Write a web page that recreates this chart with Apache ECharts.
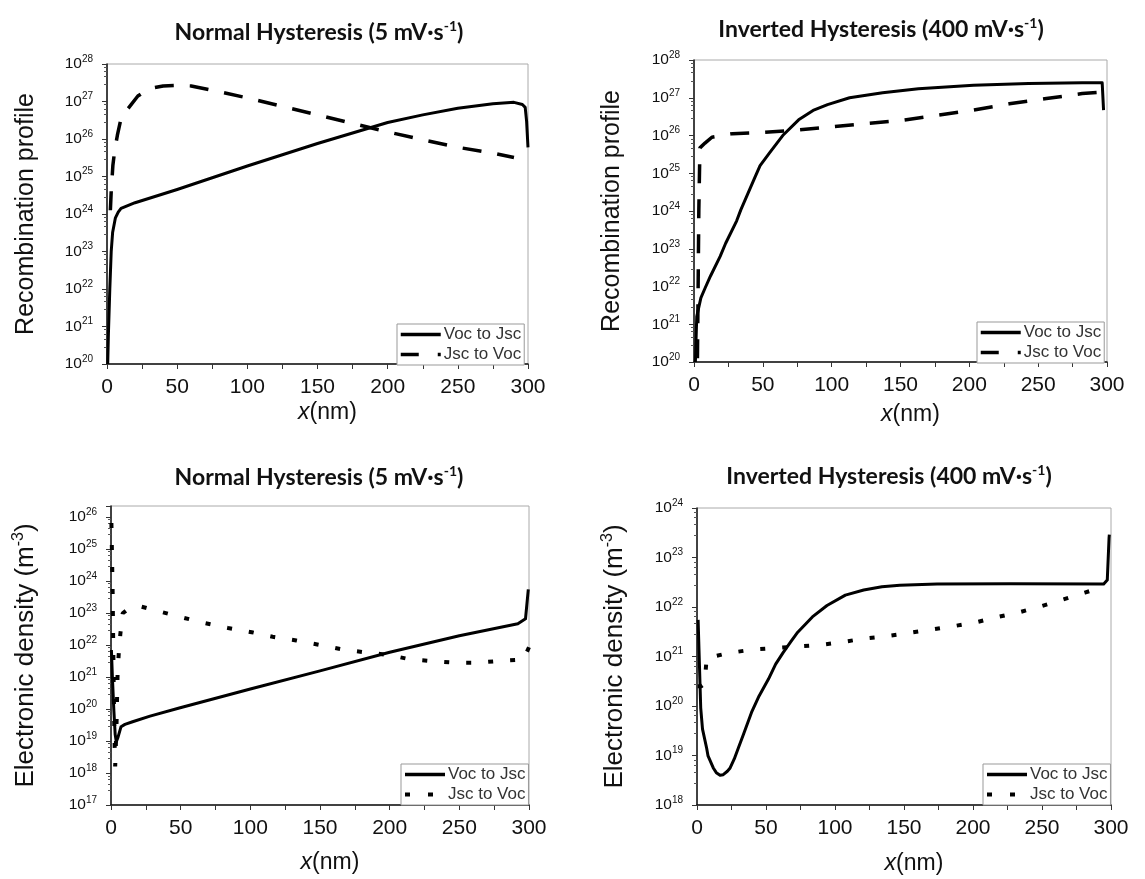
<!DOCTYPE html>
<html>
<head>
<meta charset="utf-8">
<script src="https://cdn.jsdelivr.net/npm/echarts/dist/echarts.min.js"></script>
<style>html,body{margin:0;padding:0;background:#fff}#c{width:1145px;height:879px}</style>
</head>
<body>
<div id="c"></div>
<script>
// ---------- DATA ----------
const seriesNames = ['Voc to Jsc', 'Jsc to Voc'];
const xTickLabels = ['0', '50', '100', '150', '200', '250', '300'];

// Panel A: Recombination profile, Normal Hysteresis (5 mV/s)
const recNormVocJscX = [0.5, 1, 2, 3, 4, 6, 8, 10, 20, 50, 100, 150, 200, 225, 250, 275, 290, 296, 298, 299, 300];
const recNormVocJscY = [1e20, 6.3e20, 1e22, 1e23, 3.2e23, 7.9e23, 1.12e24, 1.41e24, 2e24, 4.5e24, 1.9e25, 7.6e25, 2.75e26, 4.4e26, 6.6e26, 8.7e26, 9.5e26, 8.3e26, 7e26, 3e26, 6e25];
const recNormJscVocX = [2.4, 3, 4.2, 5.5, 7.4, 10, 15, 22, 30, 40, 50, 60, 75, 100, 125, 150, 175, 200, 225, 250, 275, 290];
const recNormJscVocY = [1.26e24, 4e24, 2e25, 5e25, 1.26e26, 3.5e26, 6.5e26, 1.4e27, 2.2e27, 2.6e27, 2.7e27, 2.6e27, 2e27, 1.25e27, 7.4e26, 4.4e26, 2.6e26, 1.55e26, 9.5e25, 6e25, 4.2e25, 3.2e25];

// Panel B: Recombination profile, Inverted Hysteresis (400 mV/s)
const recInvVocJscX = [1, 2, 5, 8, 12, 19, 23, 31, 34, 44, 48, 55, 65, 76, 86.5, 97, 113, 137, 163, 203, 243, 282, 296.5, 297.5];
const recInvVocJscY = [1e20, 1.6e21, 5e21, 9e21, 1.9e22, 6.3e22, 1.4e23, 5.5e23, 1.07e24, 7.4e24, 1.6e25, 3.5e25, 1.05e26, 2.6e26, 4.6e26, 6.6e26, 1e27, 1.35e27, 1.74e27, 2.14e27, 2.4e27, 2.5e27, 2.5e27, 4.7e26];
const recInvJscVocX = [2.5, 3, 3.5, 4.3, 8, 13, 28, 44, 70, 97, 123, 150, 176, 203, 229, 256, 282, 297];
const recInvJscVocY = [1.26e20, 1e22, 1e24, 4.7e25, 6.3e25, 9e25, 1.12e26, 1.17e26, 1.35e26, 1.66e26, 2.04e26, 2.5e26, 3.4e26, 4.7e26, 6.9e26, 9.5e26, 1.29e27, 1.41e27];

// Panel C: Electronic density, Normal Hysteresis (5 mV/s)
const denNormVocJscX = [0.3, 1, 2, 3, 3.8, 5, 7.2, 10, 15.5, 28, 49, 100, 150, 200, 250, 292, 297.5, 299.5];
const denNormVocJscY = [7e21, 1e21, 1e20, 1.6e19, 9.5e18, 1.3e19, 2.8e19, 3.3e19, 4e19, 6e19, 1.07e20, 4.2e20, 1.55e21, 5.9e21, 1.95e22, 4.6e22, 6.6e22, 5.5e23];
const denNormJscVocX = [0.3, 0.8, 1.2, 1.6, 2, 2.5, 3, 4, 4.7, 5.5, 6.7, 8.4, 12, 20, 37, 52, 67.5, 84, 101, 116, 133, 149, 165, 182, 199, 214, 231, 247, 263, 280, 296, 300];
const denNormJscVocY = [6.5e25, 4e24, 4e23, 1e22, 2.8e20, 1.26e19, 1.6e18, 4e19, 1.15e21, 4.9e21, 2.2e22, 9.8e22, 1.3e23, 1.66e23, 1.05e23, 7.1e22, 4.8e22, 3.4e22, 2.5e22, 1.8e22, 1.38e22, 1.02e22, 7.4e21, 5.9e21, 4.9e21, 3.6e21, 3.1e21, 2.8e21, 2.8e21, 3.2e21, 3.5e21, 8.5e21];

// Panel D: Electronic density, Inverted Hysteresis (400 mV/s)
const denInvVocJscX = [0.8, 2.7, 4, 7, 8, 11.8, 14, 16.7, 19, 22, 24, 27, 30.5, 33.5, 39.5, 45, 51.8, 57, 62.4, 68, 73, 83.6, 94.2, 107.5, 120.8, 134, 147, 174, 227, 294.7, 297.3, 298.6, 298.8];
const denInvVocJscY = [5.5e21, 9.1e19, 3.4e19, 1.4e19, 9.8e18, 5.6e18, 4.5e18, 4e18, 4.1e18, 4.8e18, 5.6e18, 8.5e18, 1.55e19, 2.6e19, 7.4e19, 1.6e20, 3.5e20, 7e20, 1.2e21, 2e21, 3.1e21, 6.3e21, 1.07e22, 1.74e22, 2.2e22, 2.57e22, 2.75e22, 2.9e22, 2.95e22, 2.9e22, 3.5e22, 2.5e23, 2.9e23];
const denInvJscVocX = [0.5, 3, 5.5, 7, 22.6, 40, 55.7, 71.7, 88.4, 105, 121, 137, 154, 170, 186, 202, 218, 234, 250, 264, 281, 294.7];
const denInvJscVocY = [2.5e20, 2.5e20, 2.8e20, 9.3e20, 1.17e21, 1.38e21, 1.48e21, 1.58e21, 1.7e21, 1.95e21, 2.3e21, 2.57e21, 3e21, 3.5e21, 4.1e21, 4.9e21, 6.3e21, 7.9e21, 1.05e22, 1.38e22, 1.95e22, 2.57e22];

const titleNormal = 'Normal Hysteresis (5 mV·s';
const titleInverted = 'Inverted Hysteresis (400 mV·s';
const yNameRec = 'Recombination profile';
const yNameDen = 'Electronic density (m';
const yRanges = [[1e20, 1e28], [1e20, 1e28], [1e17, 2.2e26], [1e18, 1e24]];

// ---------- LAYOUT ----------
const FONT = '"Liberation Sans", Arial, sans-serif';
const TFONT = 'Lato, "Open Sans", sans-serif';
const panels = [
  {grid: {left: 107, top: 64, width: 421, height: 300}, title: titleNormal, tx: 314, ty: 14, yName: yNameRec, sup: false, yGap: 66, xGap: 37,
   legend: {left: 397, top: 324}, dash: 'dash',
   s: [[recNormVocJscX, recNormVocJscY], [recNormJscVocX, recNormJscVocY]]},
  {grid: {left: 694, top: 60, width: 413, height: 302}, title: titleInverted, tx: 876, ty: 11, yName: yNameRec, sup: false, yGap: 67, xGap: 41,
   legend: {left: 977, top: 322}, dash: 'dash',
   s: [[recInvVocJscX, recInvVocJscY], [recInvJscVocX, recInvJscVocY]]},
  {grid: {left: 111, top: 506, width: 418, height: 299}, title: titleNormal, tx: 314, ty: 459, yName: yNameDen, sup: true, yGap: 70, xGap: 46,
   legend: {left: 401, top: 764}, dash: 'dot',
   s: [[denNormVocJscX, denNormVocJscY], [denNormJscVocX, denNormJscVocY]]},
  {grid: {left: 697, top: 508, width: 414, height: 297}, title: titleInverted, tx: 884, ty: 458, yName: yNameDen, sup: true, yGap: 67, xGap: 47,
   legend: {left: 983, top: 764}, dash: 'dot',
   s: [[denInvVocJscX, denInvVocJscY], [denInvJscVocX, denInvJscVocY]]}
];

const DASH = [19, 16];
const DOT = [5, 17];

function zip(xs, ys) { return xs.map((x, i) => [x, ys[i]]); }

const option = {
  backgroundColor: '#fff',
  animation: false,
  title: [], grid: [], xAxis: [], yAxis: [], series: [], legend: []
};

panels.forEach((p, i) => {
  option.title.push({
    text: '{t|' + p.title + '}{s|-1}{t|)}',
    left: p.tx, top: p.ty, textAlign: 'center',
    textStyle: {
      rich: {
        t: {fontFamily: TFONT, fontWeight: 'bold', fontSize: 23, color: '#111', lineHeight: 28},
        s: {fontFamily: TFONT, fontWeight: 'bold', fontSize: 14, color: '#111', lineHeight: 14, verticalAlign: 'top'}
      }
    }
  });
  option.grid.push(Object.assign({show: true, borderColor: '#aaa', borderWidth: 1, containLabel: false}, p.grid));
  option.xAxis.push({
    type: 'value', gridIndex: i, min: 0, max: 300, interval: 50,
    name: '{i|x}{n|(nm)}', nameLocation: 'middle', nameGap: p.xGap,
    nameTextStyle: {rich: {
      i: {fontFamily: FONT, fontStyle: 'italic', fontSize: 23, color: '#111'},
      n: {fontFamily: FONT, fontSize: 23, color: '#111'}
    }, padding: [0, 0, 0, 20]},
    axisLine: {onZero: false, lineStyle: {color: '#111', width: 1.5}},
    axisTick: {show: true, length: 5, lineStyle: {color: '#333'}},
    minorTick: {show: true, splitNumber: 2, length: 5, lineStyle: {color: '#333'}},
    splitLine: {show: false},
    axisLabel: {fontFamily: FONT, fontSize: 21, color: '#111', margin: 13,
      formatter: v => xTickLabels[Math.round(v / 50)] || ''}
  });
  option.yAxis.push({
    type: 'log', logBase: 10, gridIndex: i, min: yRanges[i][0], max: yRanges[i][1], splitNumber: 10,
    name: p.sup ? '{a|' + p.yName + '}{s|-3}{a|)}' : '{a|' + p.yName + '}',
    nameLocation: 'middle', nameRotate: 90, nameGap: p.yGap,
    nameTextStyle: {rich: {
      a: {fontFamily: FONT, fontSize: p.sup ? 26 : 25, color: '#111', lineHeight: 30},
      s: {fontFamily: FONT, fontSize: 16, color: '#111', lineHeight: 12, verticalAlign: 'top'}
    }},
    axisLine: {onZero: false, lineStyle: {color: '#111', width: 1.5}},
    axisTick: {show: true, length: 5, lineStyle: {color: '#333'}},
    minorTick: {show: true, splitNumber: 5, length: 3, lineStyle: {color: '#555'}},
    splitLine: {show: false},
    axisLabel: {
      margin: 14,
      formatter: v => {
        const e = Math.log10(v);
        if (Math.abs(e - Math.round(e)) > 1e-6) return '';
        return '{b|10}{s|' + Math.round(e) + '}';
      },
      rich: {
        b: {fontFamily: FONT, fontSize: 15.5, color: '#111', lineHeight: 20},
        s: {fontFamily: FONT, fontSize: 10, color: '#111', lineHeight: 8, verticalAlign: 'top'}
      }
    }
  });
  const dashType = p.dash === 'dash' ? DASH : DOT;
  const dashWidth = p.dash === 'dash' ? 3.5 : 4;
  option.series.push({
    name: seriesNames[0], type: 'line', xAxisIndex: i, yAxisIndex: i,
    data: zip(p.s[0][0], p.s[0][1]), symbol: 'none', smooth: false,
    lineStyle: {color: '#000', width: 3, join: 'round'}
  });
  option.series.push({
    name: seriesNames[1], type: 'line', xAxisIndex: i, yAxisIndex: i,
    data: zip(p.s[1][0], p.s[1][1]), symbol: 'none', smooth: false,
    lineStyle: {color: '#000', width: dashWidth, type: dashType}
  });
  option.legend.push({
    orient: 'vertical', left: p.legend.left, top: p.legend.top,
    itemWidth: 40, itemHeight: 12, itemGap: 3,
    padding: [2, 3, 2, 2],
    borderColor: '#999', borderWidth: 1, backgroundColor: '#fff',
    selectedMode: false,
    textStyle: {fontFamily: FONT, fontSize: 17, color: '#333', lineHeight: 17, padding: [0, 0, 0, -2]},
    data: [
      {name: seriesNames[0], lineStyle: {color: '#000', width: 3.5, type: 'solid'}, itemStyle: {opacity: 0}},
      {name: seriesNames[1], lineStyle: {color: '#000', width: dashWidth, type: p.dash === 'dash' ? [18, 19] : [5, 18]}, itemStyle: {opacity: 0}}
    ]
  });
});

const chart = echarts.init(document.getElementById('c'), null, {renderer: 'canvas'});
chart.setOption(option);
</script>
</body>
</html>
